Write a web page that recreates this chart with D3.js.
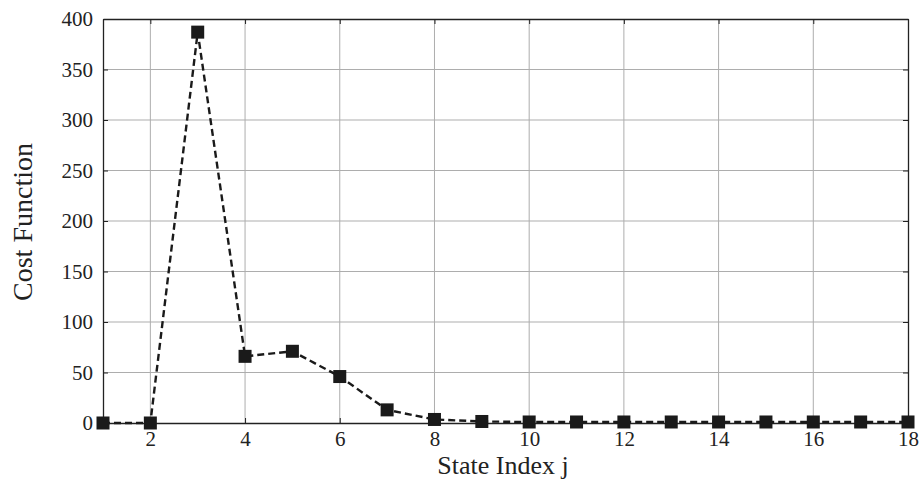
<!DOCTYPE html>
<html>
<head>
<meta charset="utf-8">
<script src="https://cdn.jsdelivr.net/npm/d3@7"></script>
<style>
  html, body { margin: 0; padding: 0; background: #fff; }
  svg { display: block; }
  text { font-family: "Liberation Serif", "Times New Roman", serif; fill: #222; }
</style>
</head>
<body>
<svg id="chart" width="919" height="480"></svg>
<script>
const stateIndex = [1, 2, 3, 4, 5, 6, 7, 8, 9, 10, 11, 12, 13, 14, 15, 16, 17, 18];
const costValues = [0, 0, 387, 66, 71, 46, 13, 3.5, 1.5, 1, 1, 1, 1, 1, 1, 1, 1, 1];
const xTicks = [2, 4, 6, 8, 10, 12, 14, 16, 18];
const yTicks = [0, 50, 100, 150, 200, 250, 300, 350, 400];
const xTitle = "State Index j";
const yTitle = "Cost Function";

const W = 919, H = 480;
const m = { left: 103, right: 919 - 908, top: 19, bottom: 480 - 423 };
const svg = d3.select("#chart");
const x = d3.scaleLinear().domain([1, 18]).range([m.left, W - m.right]);
const y = d3.scaleLinear().domain([0, 400]).range([H - m.bottom, m.top]);

const g = svg.append("g");

// grid
g.append("g").selectAll("line").data(xTicks.filter(t => t > 1 && t < 18)).join("line")
  .attr("x1", d => x(d)).attr("x2", d => x(d))
  .attr("y1", y(0)).attr("y2", y(400))
  .attr("stroke", "#adadad").attr("stroke-width", 1);
g.append("g").selectAll("line").data(yTicks.filter(t => t > 0 && t < 400)).join("line")
  .attr("x1", x(1)).attr("x2", x(18))
  .attr("y1", d => y(d)).attr("y2", d => y(d))
  .attr("stroke", "#adadad").attr("stroke-width", 1);

// axes
const xAxisB = d3.axisBottom(x).tickValues(xTicks).tickSizeInner(-5).tickSizeOuter(0).tickPadding(8);
const xAxisT = d3.axisTop(x).tickValues(xTicks).tickSizeInner(-5).tickSizeOuter(0).tickFormat("");
const yAxisL = d3.axisLeft(y).tickValues(yTicks).tickSizeInner(-5).tickSizeOuter(0).tickPadding(10);
const yAxisR = d3.axisRight(y).tickValues(yTicks).tickSizeInner(-5).tickSizeOuter(0).tickFormat("");

function style(sel) {
  sel.select(".domain").attr("stroke", "#222").attr("stroke-width", 1.3);
  sel.selectAll(".tick line").attr("stroke", "#222").attr("stroke-width", 1);
  sel.selectAll(".tick text").attr("font-size", 21).attr("font-family", "Liberation Serif").attr("fill", "#222");
}
g.append("g").attr("transform", `translate(0,${y(0)})`).call(xAxisB).call(style);
g.append("g").attr("transform", `translate(0,${y(400)})`).call(xAxisT).call(style);
g.append("g").attr("transform", `translate(${x(1)},0)`).call(yAxisL).call(style);
g.append("g").attr("transform", `translate(${x(18)},0)`).call(yAxisR).call(style);

// line
const line = d3.line().x((d, i) => x(stateIndex[i])).y(d => y(d));
g.append("path").datum(costValues)
  .attr("d", line).attr("fill", "none")
  .attr("stroke", "#1a1a1a").attr("stroke-width", 2.4)
  .attr("stroke-dasharray", "7,4");

// markers
const ms = 13;
g.append("g").selectAll("rect").data(costValues).join("rect")
  .attr("x", (d, i) => x(stateIndex[i]) - ms / 2)
  .attr("y", d => y(d) - ms / 2)
  .attr("width", ms).attr("height", ms)
  .attr("fill", "#1a1a1a");

// titles
svg.append("text").attr("x", 503).attr("y", 474)
  .attr("text-anchor", "middle").attr("font-size", 26).text(xTitle);
svg.append("text").attr("transform", `translate(32,222) rotate(-90)`)
  .attr("text-anchor", "middle").attr("font-size", 28).text(yTitle);
</script>
</body>
</html>
